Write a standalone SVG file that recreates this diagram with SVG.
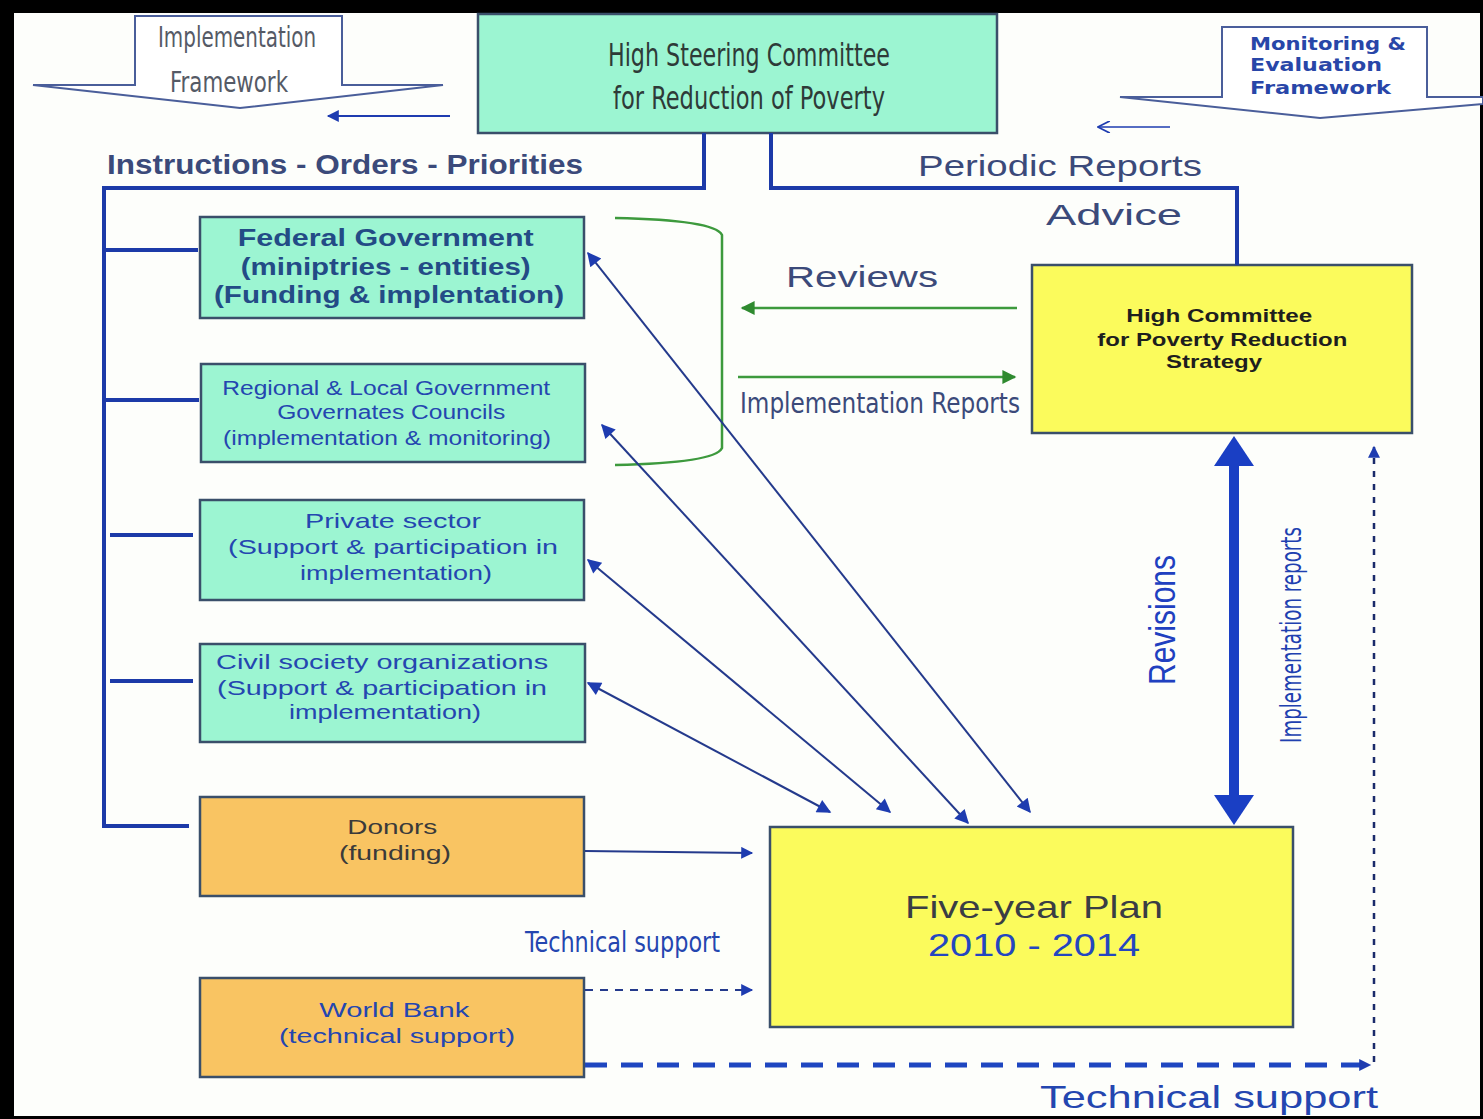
<svg xmlns="http://www.w3.org/2000/svg" width="1483" height="1119" viewBox="0 0 1483 1119">
<style>
.box{stroke:#3a4f6a;stroke-width:2.5}
.teal{fill:#9cf5d2}
.orange{fill:#f9c462}
.yellow{fill:#fbfb5c}
.narrow{font-family:"Liberation Sans Narrow","DejaVu Sans Condensed","Liberation Sans",sans-serif}
.sans{font-family:"Liberation Sans",Arial,sans-serif}
.wide{font-family:"DejaVu Sans","Liberation Sans",sans-serif}
.bus{stroke:#1c3aa8;stroke-width:4;fill:none}
.diag{stroke:#243a8c;stroke-width:2;fill:none;marker-start:url(#ah);marker-end:url(#ah)}
.green{stroke:#3d9a3d;stroke-width:2.5;fill:none}
</style>
<defs>
<marker id="ah" viewBox="0 0 10 10" refX="9" refY="5" markerWidth="18" markerHeight="14" markerUnits="userSpaceOnUse" orient="auto-start-reverse"><path d="M0,0 L10,5 L0,10 z" fill="#1e3cb0"/></marker>
<marker id="gh" viewBox="0 0 10 10" refX="9" refY="5" markerWidth="18" markerHeight="14" markerUnits="userSpaceOnUse" orient="auto"><path d="M0,0 L10,5 L0,10 z" fill="#2f8a2f"/></marker>
<marker id="bh" viewBox="0 0 10 10" refX="9" refY="5" markerWidth="16" markerHeight="12" markerUnits="userSpaceOnUse" orient="auto"><path d="M0,0 L10,5 L0,10 z" fill="#1e3cb0"/></marker>
<marker id="oh" viewBox="0 0 10 10" refX="9" refY="5" markerWidth="14" markerHeight="12" markerUnits="userSpaceOnUse" orient="auto"><path d="M0,0 L10,5 L0,10" fill="none" stroke="#1e3cb0" stroke-width="1.5"/></marker>
</defs>
<rect width="1483" height="1119" fill="#fdfefb"/>
<rect x="0" y="0" width="1483" height="13" fill="#000"/>
<rect x="0" y="0" width="14" height="1119" fill="#000"/>
<rect x="0" y="1116" width="1483" height="3" fill="#000"/>
<rect x="1480" y="0" width="3" height="1119" fill="#000"/>

<g id="implementation-framework">
<polygon points="135,16 342,16 342,85 443,85 240,108 33,85 135,85" fill="#ffffff" stroke="#4a5e9a" stroke-width="2"/>
<text x="237" y="47" class="narrow" font-size="28" fill="#555a66" text-anchor="middle" textLength="158" lengthAdjust="spacingAndGlyphs">Implementation</text>
<text x="229" y="92" class="narrow" font-size="28" fill="#555a66" text-anchor="middle" textLength="118" lengthAdjust="spacingAndGlyphs">Framework</text>
</g>

<g id="monitoring-framework">
<polygon points="1222,27 1427,27 1427,97 1483,97 1483,104 1320,118 1120,97 1222,97" fill="#ffffff" stroke="#4a5e9a" stroke-width="2"/>
<text class="wide" font-size="17" font-weight="bold" fill="#2846a8">
<tspan x="1250" y="50" textLength="156" lengthAdjust="spacingAndGlyphs">Monitoring &amp;</tspan>
<tspan x="1250" y="71" textLength="132" lengthAdjust="spacingAndGlyphs">Evaluation</tspan>
<tspan x="1250" y="94" textLength="141" lengthAdjust="spacingAndGlyphs">Framework</tspan>
</text>
</g>

<g id="steering-committee">
<rect x="478" y="14" width="519" height="119" class="box teal"/>
<text x="749" y="66" class="narrow" font-size="32" fill="#2e3a38" text-anchor="middle" textLength="282" lengthAdjust="spacingAndGlyphs">High  Steering Committee</text>
<text x="749" y="109" class="narrow" font-size="32" fill="#2e3a38" text-anchor="middle" textLength="272" lengthAdjust="spacingAndGlyphs">for  Reduction of Poverty</text>
</g>

<g id="federal">
<rect x="200" y="217" width="384" height="101" class="box teal"/>
<text class="sans" font-size="24" font-weight="bold" fill="#234b86" text-anchor="middle">
<tspan x="389" y="246" textLength="296" lengthAdjust="spacingAndGlyphs">Federal Government</tspan>
<tspan x="389" y="275" textLength="290" lengthAdjust="spacingAndGlyphs">(miniptries - entities)</tspan>
<tspan x="389" y="303" textLength="350" lengthAdjust="spacingAndGlyphs">(Funding &amp; implentation)</tspan>
</text>
</g>

<g id="regional">
<rect x="201" y="364" width="384" height="98" class="box teal"/>
<text class="sans" font-size="20" fill="#2446b0" text-anchor="middle">
<tspan x="389" y="395" textLength="328" lengthAdjust="spacingAndGlyphs">Regional &amp; Local Government</tspan>
<tspan x="394" y="419" textLength="228" lengthAdjust="spacingAndGlyphs">Governates Councils</tspan>
<tspan x="387" y="445" textLength="328" lengthAdjust="spacingAndGlyphs">(implementation &amp; monitoring)</tspan>
</text>
</g>

<g id="private">
<rect x="200" y="500" width="384" height="100" class="box teal"/>
<text class="sans" font-size="21" fill="#2446b0" text-anchor="middle">
<tspan x="396" y="528" textLength="176" lengthAdjust="spacingAndGlyphs">Private sector</tspan>
<tspan x="396" y="554" textLength="330" lengthAdjust="spacingAndGlyphs">(Support &amp; participation in</tspan>
<tspan x="396" y="580" textLength="192" lengthAdjust="spacingAndGlyphs">implementation)</tspan>
</text>
</g>

<g id="civil">
<rect x="200" y="644" width="385" height="98" class="box teal"/>
<text class="sans" font-size="21" fill="#2446b0" text-anchor="middle">
<tspan x="385" y="669" textLength="332" lengthAdjust="spacingAndGlyphs">Civil society organizations</tspan>
<tspan x="385" y="695" textLength="330" lengthAdjust="spacingAndGlyphs">(Support &amp; participation in</tspan>
<tspan x="385" y="719" textLength="192" lengthAdjust="spacingAndGlyphs">implementation)</tspan>
</text>
</g>

<g id="donors">
<rect x="200" y="797" width="384" height="99" class="box orange"/>
<text class="sans" font-size="20" fill="#3a3a3a" text-anchor="middle">
<tspan x="395" y="834" textLength="90" lengthAdjust="spacingAndGlyphs">Donors</tspan>
<tspan x="395" y="860" textLength="112" lengthAdjust="spacingAndGlyphs">(funding)</tspan>
</text>
</g>

<g id="world-bank">
<rect x="200" y="978" width="384" height="99" class="box orange"/>
<text class="sans" font-size="20" fill="#2446b0" text-anchor="middle">
<tspan x="397" y="1017" textLength="150" lengthAdjust="spacingAndGlyphs">World Bank</tspan>
<tspan x="397" y="1043" textLength="236" lengthAdjust="spacingAndGlyphs">(technical support)</tspan>
</text>
</g>

<g id="high-committee">
<rect x="1032" y="265" width="380" height="168" class="box yellow"/>
<text class="sans" font-size="19" font-weight="bold" fill="#1e1e1e" text-anchor="middle">
<tspan x="1222" y="322" textLength="186" lengthAdjust="spacingAndGlyphs">High Committee</tspan>
<tspan x="1225" y="346" textLength="250" lengthAdjust="spacingAndGlyphs">for Poverty Reduction</tspan>
<tspan x="1214" y="368" textLength="96" lengthAdjust="spacingAndGlyphs">Strategy</tspan>
</text>
</g>

<g id="five-year-plan">
<rect x="770" y="827" width="523" height="200" class="box yellow"/>
<text x="1034" y="918" class="sans" font-size="32" fill="#3a3d44" text-anchor="middle" textLength="258" lengthAdjust="spacingAndGlyphs">Five-year Plan</text>
<text x="1034" y="956" class="sans" font-size="32" fill="#2446c0" text-anchor="middle" textLength="212" lengthAdjust="spacingAndGlyphs">2010 - 2014</text>
</g>

<g id="connectors">
<line x1="450" y1="116" x2="328" y2="116" stroke="#1e3cb0" stroke-width="2" marker-end="url(#bh)"/>
<line x1="1170" y1="127" x2="1099" y2="127" stroke="#1e3cb0" stroke-width="1.5" marker-end="url(#oh)"/>
<polyline points="704,133 704,188 104,188 104,828" class="bus"/>
<line x1="104" y1="250" x2="198" y2="250" class="bus" stroke-width="3"/>
<line x1="104" y1="400" x2="199" y2="400" class="bus" stroke-width="3"/>
<line x1="110" y1="535" x2="193" y2="535" class="bus" stroke-width="3"/>
<line x1="110" y1="681" x2="193" y2="681" class="bus" stroke-width="3"/>
<line x1="104" y1="826" x2="189" y2="826" class="bus" stroke-width="3"/>
<polyline points="771,133 771,188 1237,188 1237,265" class="bus"/>
<path d="M615,218 Q715,220 722,235 L722,448 Q715,463 615,465" class="green"/>
<line x1="1017" y1="308" x2="742" y2="308" class="green" marker-end="url(#gh)"/>
<line x1="738" y1="377" x2="1015" y2="377" class="green" marker-end="url(#gh)"/>
<line x1="588" y1="253" x2="1030" y2="812" class="diag"/>
<line x1="602" y1="425" x2="968" y2="823" class="diag"/>
<line x1="588" y1="560" x2="890" y2="812" class="diag"/>
<line x1="588" y1="683" x2="830" y2="812" class="diag"/>
<line x1="585" y1="851" x2="752" y2="853" stroke="#243a8c" stroke-width="2" marker-end="url(#bh)"/>
<line x1="585" y1="990" x2="752" y2="990" stroke="#243a8c" stroke-width="2" stroke-dasharray="8,7" marker-end="url(#bh)"/>
<line x1="585" y1="1065" x2="1370" y2="1065" stroke="#1e46c0" stroke-width="5" stroke-dasharray="22,14" marker-end="url(#bh)"/>
<line x1="1374" y1="1062" x2="1374" y2="447" stroke="#1a2a6a" stroke-width="2.5" stroke-dasharray="6,7" marker-end="url(#bh)"/>
<rect x="1229" y="463" width="10" height="334" fill="#1a3fc4"/>
<polygon points="1234,436 1254,466 1214,466" fill="#1a3fc4"/>
<polygon points="1234,825 1254,795 1214,795" fill="#1a3fc4"/>
</g>

<g id="labels">
<text x="107" y="174" class="sans" font-size="27" font-weight="bold" fill="#3b4a7a" textLength="476" lengthAdjust="spacingAndGlyphs">Instructions - Orders - Priorities</text>
<text x="918" y="176" class="sans" font-size="30" fill="#3b4a7a" textLength="284" lengthAdjust="spacingAndGlyphs">Periodic Reports</text>
<text x="1046" y="225" class="sans" font-size="30" fill="#3b4a7a" textLength="136" lengthAdjust="spacingAndGlyphs">Advice</text>
<text x="786" y="287" class="sans" font-size="30" fill="#3b4a7a" textLength="152" lengthAdjust="spacingAndGlyphs">Reviews</text>
<text x="740" y="413" class="narrow" font-size="28" fill="#3b4a7a" textLength="280" lengthAdjust="spacingAndGlyphs">Implementation Reports</text>
<text x="525" y="952" class="narrow" font-size="28" fill="#2446b0" textLength="195" lengthAdjust="spacingAndGlyphs">Technical support</text>
<text x="1040" y="1108" class="sans" font-size="32" fill="#2446b0" textLength="338" lengthAdjust="spacingAndGlyphs">Technical support</text>
<text transform="translate(1175,620) rotate(-90)" class="sans" font-size="36" fill="#2040c0" text-anchor="middle" textLength="130" lengthAdjust="spacingAndGlyphs">Revisions</text>
<text transform="translate(1301,635) rotate(-90)" class="narrow" font-size="28" fill="#2040b0" text-anchor="middle" textLength="216" lengthAdjust="spacingAndGlyphs">Implementation reports</text>
</g>
</svg>
